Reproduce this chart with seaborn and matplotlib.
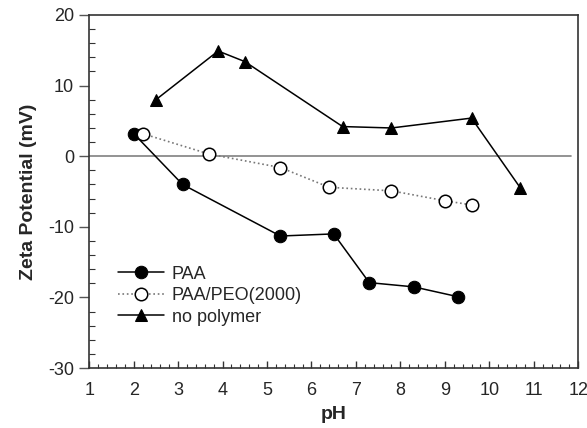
import numpy as np
import pandas as pd
import seaborn as sns
import matplotlib.pyplot as plt
from matplotlib.ticker import MultipleLocator

# Data
paa_ph = [2.0, 3.1, 5.3, 6.5, 7.3, 8.3, 9.3]
paa_zeta = [3.2, -4.0, -11.3, -11.0, -17.9, -18.5, -19.9]

peo_ph = [2.2, 3.7, 5.3, 6.4, 7.8, 9.0, 9.6]
peo_zeta = [3.2, 0.3, -1.6, -4.4, -4.9, -6.3, -6.9]

nopoly_ph = [2.5, 3.9, 4.5, 6.7, 7.8, 9.6, 10.7]
nopoly_zeta = [8.0, 14.9, 13.4, 4.2, 4.0, 5.4, -4.5]

x_ticks = list(range(1, 13))
y_ticks = [-30, -20, -10, 0, 10, 20]

sns.set_style('ticks')
plt.rcParams['font.family'] = ['Liberation Sans', 'DejaVu Sans']
plt.rcParams['axes.unicode_minus'] = False

fig = plt.figure(figsize=(5.87, 4.28), dpi=100)
ax = fig.add_axes([0.152, 0.140, 0.833, 0.825])

# Zero reference line
ax.axhline(0, color='#808080', lw=1.2, xmax=0.985, zorder=1)

sns.lineplot(x=paa_ph, y=paa_zeta, ax=ax, sort=False, color='black', lw=1.1,
             marker='o', markersize=9, markerfacecolor='black',
             markeredgecolor='black', label='PAA', zorder=3)
sns.lineplot(x=peo_ph, y=peo_zeta, ax=ax, sort=False, color='#777777', lw=1.2,
             linestyle=':', marker='o', markersize=9, markerfacecolor='white',
             markeredgecolor='black', markeredgewidth=1.1,
             label='PAA/PEO(2000)', zorder=3)
sns.lineplot(x=nopoly_ph, y=nopoly_zeta, ax=ax, sort=False, color='black', lw=1.1,
             marker='^', markersize=9, markerfacecolor='black',
             markeredgecolor='black', label='no polymer', zorder=3)

ax.set_xlim(1, 12)
ax.set_ylim(-30, 20)
ax.set_xticks(x_ticks)
ax.set_yticks(y_ticks)
ax.xaxis.set_minor_locator(MultipleLocator(0.2))
ax.yaxis.set_minor_locator(MultipleLocator(2))

ax.tick_params(axis='x', which='major', direction='in', length=5, width=1,
               labelsize=13, pad=10, color='#333333')
ax.tick_params(axis='x', which='minor', direction='in', length=3, width=0.8,
               color='#333333')
ax.tick_params(axis='y', which='major', direction='out', length=7, width=1,
               labelsize=13, pad=4, color='#555555')
ax.tick_params(axis='y', which='minor', direction='in', length=4, width=0.8,
               color='#333333')

for side in ['top', 'right', 'bottom', 'left']:
    ax.spines[side].set_visible(True)
    ax.spines[side].set_color('#333333')
    ax.spines[side].set_linewidth(1.2)

ax.set_xlabel('pH', fontsize=14, fontweight='bold', labelpad=5)
ax.set_ylabel('Zeta Potential (mV)', fontsize=14, fontweight='bold', labelpad=8)

leg = ax.legend(loc='lower left', bbox_to_anchor=(0.045, 0.1), frameon=False,
                fontsize=13, handlelength=2.5, handletextpad=0.45,
                labelspacing=0.25, borderaxespad=0)

fig.savefig('out.png', dpi=100)
